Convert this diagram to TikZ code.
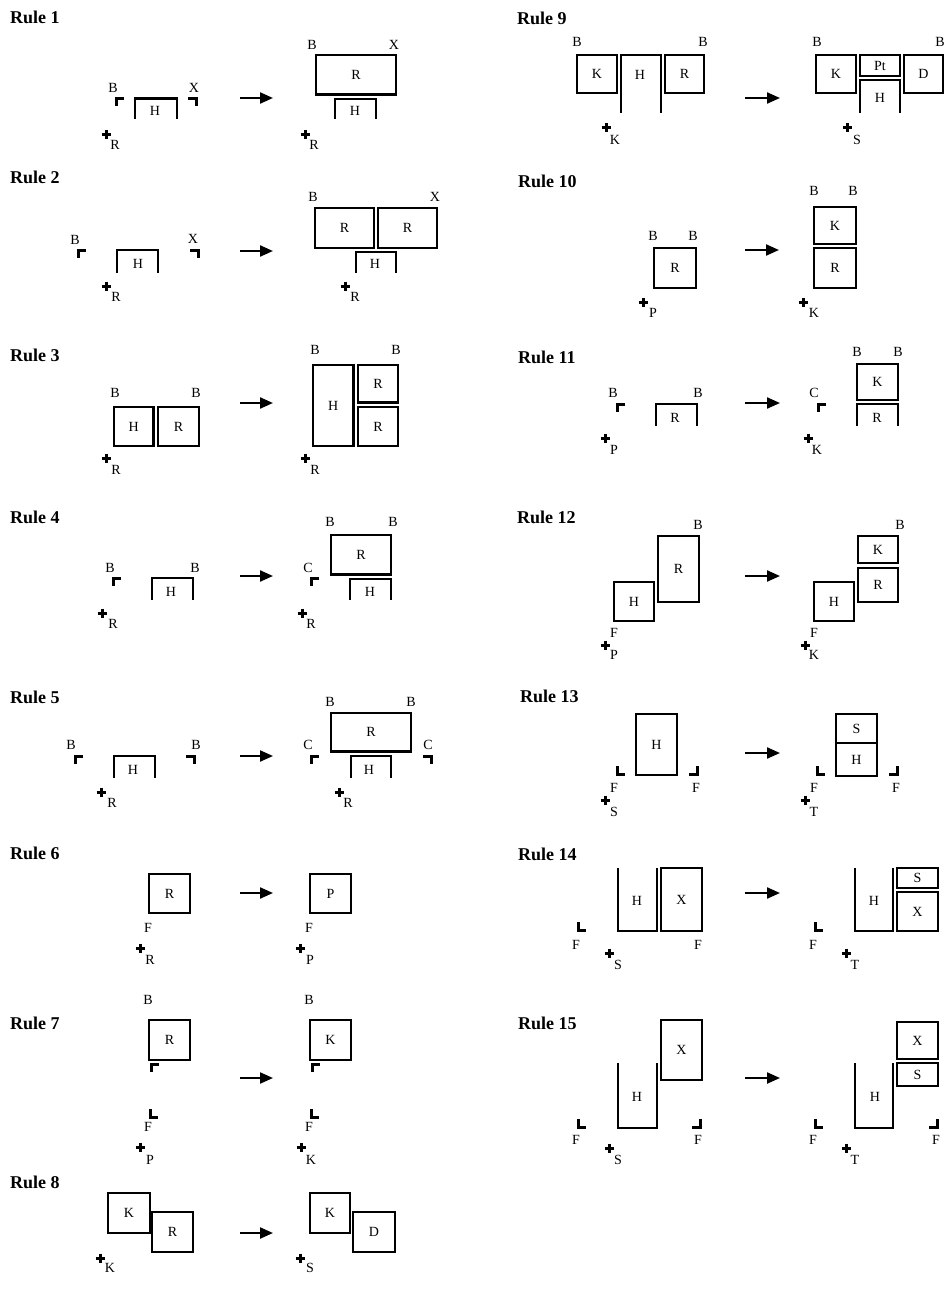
\documentclass[tikz,border=0pt]{standalone}
\usepackage{fontspec}
\setmainfont{Liberation Serif}
\usetikzlibrary{arrows.meta}
\newcommand\labf{\fontsize{14}{14}\selectfont}
\newcommand\ttlf{\fontsize{18}{18}\selectfont\bfseries}
\tikzset{
 blk/.style={draw, line width=2.8pt, inner sep=0pt, font=\labf},
 thk/.style={line width=2.8pt},
 pls/.style={line width=3pt},
 mrk/.style={line width=3pt},
 lbl/.style={inner sep=0pt, font=\labf},
 ttl/.style={inner sep=0pt, font=\ttlf, anchor=base west},
 arr/.style={line width=2.2pt, -{Triangle[length=13pt,width=11pt]}},
}
% full box: name x1 y1 x2 y2 text
\newcommand\bx[6]{\node[blk, minimum width={#4-#2}, minimum height={#5-#3}] (#1) at ({(#2+#4)/2},{(#3+#5)/2}) {#6};}
% open-bottom box
\newcommand\ob[4]{\draw[thk] (#1,#4) -- (#1,#2) -- (#3,#2) -- (#3,#4);}
% open-top box
\newcommand\ub[4]{\draw[thk] (#1,#2) -- (#1,#4) -- (#3,#4) -- (#3,#2);}
% label
\newcommand\lb[4]{\node[lbl] (#1) at (#2,#3) {#4};}
% plus
\newcommand\pl[2]{\draw[pls] ({#1-4.5},#2) -- ({#1+4.5},#2) (#1,{#2-4.5}) -- (#1,{#2+4.5});}
% corner marks
\newcommand\mtl[2]{\draw[mrk] ({#1+8},#2) -- (#1,#2) -- (#1,{#2+8});}
\newcommand\mtr[2]{\draw[mrk] ({#1-8},#2) -- (#1,#2) -- (#1,{#2+8});}
\newcommand\mbl[2]{\draw[mrk] (#1,{#2-8}) -- (#1,#2) -- ({#1+8},#2);}
\newcommand\mbr[2]{\draw[mrk] (#1,{#2-8}) -- (#1,#2) -- ({#1-8},#2);}
% arrow
\newcommand\ar[4]{\coordinate (#1s) at (#2,#4); \coordinate (#1e) at (#3,#4); \draw[arr] (#1s) -- (#1e);}
\begin{document}
\begin{tikzpicture}[x=1pt,y=-1pt]
\useasboundingbox (0,0) rectangle (947,1308);
% titles
\node[ttl] (t1) at (10,24) {Rule 1};
\node[ttl] (t2) at (10,184) {Rule 2};
\node[ttl] (t3) at (10,361) {Rule 3};
\node[ttl] (t4) at (10,523) {Rule 4};
\node[ttl] (t5) at (10,703) {Rule 5};
\node[ttl] (t6) at (10,859) {Rule 6};
\node[ttl] (t7) at (10,1029) {Rule 7};
\node[ttl] (t8) at (10,1188) {Rule 8};
\node[ttl] (t9) at (517,25) {Rule 9};
\node[ttl] (t10) at (518,187) {Rule 10};
\node[ttl] (t11) at (518,363) {Rule 11};
\node[ttl] (t12) at (517,523) {Rule 12};
\node[ttl] (t13) at (520,702) {Rule 13};
\node[ttl] (t14) at (518,860) {Rule 14};
\node[ttl] (t15) at (518,1029) {Rule 15};

% ---------- Rule 1
\lb{r1b}{113}{88}{B} \mtl{116}{98.5}
\ob{135}{98.5}{177}{119} \lb{r1h}{155}{111}{H}
\lb{r1x}{194}{88}{X} \mtr{196}{98.5}
\pl{106}{135} \lb{r1r}{115}{145}{R}
\ar{a1}{240}{273}{98}
\bx{r1R}{316}{55}{396}{94.5}{R}
\lb{r1b2}{312}{45}{B} \lb{r1x2}{394}{45}{X}
\ob{335}{99}{376}{119} \lb{r1h2}{355}{111}{H}
\pl{305}{135} \lb{r1r2}{314}{145}{R}

% ---------- Rule 2
\lb{r2b}{75}{240}{B} \mtl{78}{250}
\lb{r2x}{193}{239}{X} \mtr{198}{250}
\ob{117}{250}{158}{273} \lb{r2h}{138}{264}{H}
\pl{106}{286} \lb{r2r}{116}{297}{R}
\ar{a2}{240}{273}{251}
\bx{r2R1}{315}{208}{374}{248}{R}
\bx{r2R2}{378}{208}{437}{248}{R}
\lb{r2b2}{313}{197}{B} \lb{r2x2}{435}{197}{X}
\ob{356}{252}{396}{273} \lb{r2h2}{375}{264}{H}
\pl{345}{286} \lb{r2r2}{355}{297}{R}

% ---------- Rule 3
\lb{r3b}{115}{393}{B} \lb{r3b1}{196}{393}{B}
\bx{r3H}{114}{407}{153.5}{446}{H}
\bx{r3R}{158}{407}{199}{446}{R}
\pl{106}{458} \lb{r3r}{116}{470}{R}
\ar{a3}{240}{273}{403}
\bx{r3H2}{313}{365}{353.5}{446}{H}
\bx{r3R2}{358}{365}{398}{402.5}{R}
\bx{r3R3}{358}{407}{398}{446}{R}
\lb{r3b2}{315}{350}{B} \lb{r3b3}{396}{350}{B}
\pl{305}{458} \lb{r3r2}{315}{470}{R}

% ---------- Rule 4
\lb{r4b}{110}{568}{B} \mtl{113}{578}
\ob{152}{578}{193}{600} \lb{r4h}{171}{592}{H}
\lb{r4b1}{195}{568}{B}
\pl{102}{613} \lb{r4r}{113}{624}{R}
\ar{a4}{240}{273}{576}
\bx{r4R}{331}{535}{391}{574.5}{R}
\lb{r4b2}{330}{522}{B} \lb{r4b3}{393}{522}{B}
\lb{r4c}{308}{568}{C} \mtl{311}{578}
\ob{350}{579}{391}{600} \lb{r4h2}{370}{592}{H}
\pl{302}{613} \lb{r4r2}{311}{624}{R}

% ---------- Rule 5
\lb{r5b}{71}{745}{B} \mtl{75}{756}
\ob{114}{756}{155}{778} \lb{r5h}{133}{770}{H}
\lb{r5b1}{196}{745}{B} \mtr{194}{756}
\pl{101}{792} \lb{r5r}{112}{803}{R}
\ar{a5}{240}{273}{756}
\bx{r5R}{331}{713}{411}{751.5}{R}
\lb{r5b2}{330}{702}{B} \lb{r5b3}{411}{702}{B}
\lb{r5c}{308}{745}{C} \mtl{311}{756}
\lb{r5c2}{428}{745}{C} \mtr{431}{756}
\ob{351}{756}{391}{778} \lb{r5h2}{369}{770}{H}
\pl{339}{792} \lb{r5r2}{348}{803}{R}

% ---------- Rule 6
\bx{r6R}{149}{874}{190}{913}{R}
\lb{r6f}{148}{928}{F}
\pl{140}{948} \lb{r6r}{150}{960}{R}
\ar{a6}{240}{273}{893}
\bx{r6P}{310}{874}{351}{913}{P}
\lb{r6f2}{309}{928}{F}
\pl{300}{948} \lb{r6p}{310}{960}{P}

% ---------- Rule 7
\lb{r7b}{148}{1000}{B}
\bx{r7R}{149}{1020}{190}{1060}{R}
\mtl{151}{1064}
\mbl{150}{1117} \lb{r7f}{148}{1127}{F}
\pl{140}{1147} \lb{r7p}{150}{1160}{P}
\ar{a7}{240}{273}{1078}
\lb{r7b2}{309}{1000}{B}
\bx{r7K}{310}{1020}{351}{1060}{K}
\mtl{312}{1064}
\mbl{311}{1117} \lb{r7f2}{309}{1127}{F}
\pl{301}{1147} \lb{r7k}{311}{1160}{K}

% ---------- Rule 8
\bx{r8K}{108}{1193}{150}{1233}{K}
\bx{r8R}{152}{1212}{193}{1252}{R}
\pl{100}{1258} \lb{r8k}{110}{1268}{K}
\ar{a8}{240}{273}{1233}
\bx{r8K2}{310}{1193}{350}{1233}{K}
\bx{r8D}{353}{1212}{395}{1252}{D}
\pl{300}{1258} \lb{r8s}{310}{1268}{S}

% ---------- Rule 9
\lb{r9b}{577}{42}{B} \lb{r9b1}{703}{42}{B}
\bx{r9K}{577}{55}{617}{93}{K}
\ob{621}{55}{661}{113} \lb{r9h}{640}{75}{H}
\bx{r9R}{665}{55}{704}{93}{R}
\pl{606}{128} \lb{r9k}{615}{140}{K}
\ar{a9}{745}{780}{98}
\lb{r9b2}{817}{42}{B} \lb{r9b3}{940}{42}{B}
\bx{r9K2}{816}{55}{856}{93}{K}
\bx{r9Pt}{860}{55}{900}{76}{Pt}
\ob{860}{80}{900}{113} \lb{r9h2}{880}{98}{H}
\bx{r9D}{904}{55}{943}{93}{D}
\pl{847}{128} \lb{r9s}{857}{140}{S}

% ---------- Rule 10
\lb{r10b}{653}{236}{B} \lb{r10b1}{693}{236}{B}
\bx{r10R}{654}{248}{696}{288}{R}
\pl{643}{302} \lb{r10p}{653}{313}{P}
\ar{a10}{745}{779}{250}
\lb{r10b2}{814}{191}{B} \lb{r10b3}{853}{191}{B}
\bx{r10K}{814}{207}{856}{244}{K}
\bx{r10R2}{814}{248}{856}{288}{R}
\pl{803}{302} \lb{r10k}{814}{313}{K}

% ---------- Rule 11
\lb{r11b}{613}{393}{B} \mtl{617}{404}
\ob{656}{404}{697}{426} \lb{r11r}{675}{418}{R}
\lb{r11b1}{698}{393}{B}
\pl{605}{438} \lb{r11p}{614}{450}{P}
\ar{a11}{745}{780}{403}
\lb{r11b2}{857}{352}{B} \lb{r11b3}{898}{352}{B}
\bx{r11K}{857}{364}{898}{400}{K}
\ob{857}{404}{898}{426} \lb{r11r2}{877}{418}{R}
\lb{r11c}{814}{393}{C} \mtl{818}{404}
\pl{808}{438} \lb{r11k}{817}{450}{K}

% ---------- Rule 12
\bx{r12R}{658}{536}{699}{602}{R}
\lb{r12b}{698}{525}{B}
\bx{r12H}{614}{582}{654}{621}{H}
\lb{r12f}{614}{633}{F}
\pl{605}{645} \lb{r12p}{614}{655}{P}
\ar{a12}{745}{780}{576}
\bx{r12K}{858}{536}{898}{563}{K}
\bx{r12R2}{858}{568}{898}{602}{R}
\lb{r12b2}{900}{525}{B}
\bx{r12H2}{814}{582}{854}{621}{H}
\lb{r12f2}{814}{633}{F}
\pl{805}{645} \lb{r12k}{814}{655}{K}

% ---------- Rule 13
\bx{r13H}{636}{714}{677}{775}{H}
\mbl{617}{774} \lb{r13f}{614}{788}{F}
\mbr{697}{774} \lb{r13f1}{696}{788}{F}
\pl{605}{800} \lb{r13s}{614}{812}{S}
\ar{a13}{745}{780}{753}
\bx{r13S}{836}{714}{877}{743}{S}
\bx{r13H2}{836}{743}{877}{776}{H}
\mbl{817}{774} \mbr{897}{774}
\lb{r13f2}{814}{788}{F} \lb{r13f3}{896}{788}{F}
\pl{805}{800} \lb{r13t}{814}{812}{T}

% ---------- Rule 14
\ub{618}{868}{657}{931} \lb{r14h}{637}{901}{H}
\bx{r14X}{661}{868}{702}{931}{X}
\mbl{578}{930} \lb{r14f}{576}{945}{F}
\lb{r14f1}{698}{945}{F}
\pl{609}{953} \lb{r14s}{618}{965}{S}
\ar{a14}{745}{780}{893}
\ub{855}{868}{893}{931} \lb{r14h2}{874}{901}{H}
\bx{r14S}{897}{868}{938}{888}{S}
\bx{r14X2}{897}{892}{938}{931}{X}
\mbl{815}{930} \lb{r14f2}{813}{945}{F}
\pl{846}{953} \lb{r14t}{855}{965}{T}

% ---------- Rule 15
\bx{r15X}{661}{1020}{702}{1080}{X}
\ub{618}{1063}{657}{1128} \lb{r15h}{637}{1097}{H}
\mbl{578}{1127} \lb{r15f}{576}{1140}{F}
\mbr{700}{1127} \lb{r15f1}{698}{1140}{F}
\pl{609}{1148} \lb{r15s}{618}{1160}{S}
\ar{a15}{745}{780}{1078}
\bx{r15X2}{897}{1022}{938}{1059}{X}
\bx{r15S}{897}{1063}{938}{1086}{S}
\ub{855}{1063}{893}{1128} \lb{r15h2}{875}{1097}{H}
\mbl{815}{1127} \mbr{937}{1127}
\lb{r15f2}{813}{1140}{F} \lb{r15f3}{936}{1140}{F}
\pl{846}{1148} \lb{r15t}{855}{1160}{T}
\end{tikzpicture}
\end{document}
